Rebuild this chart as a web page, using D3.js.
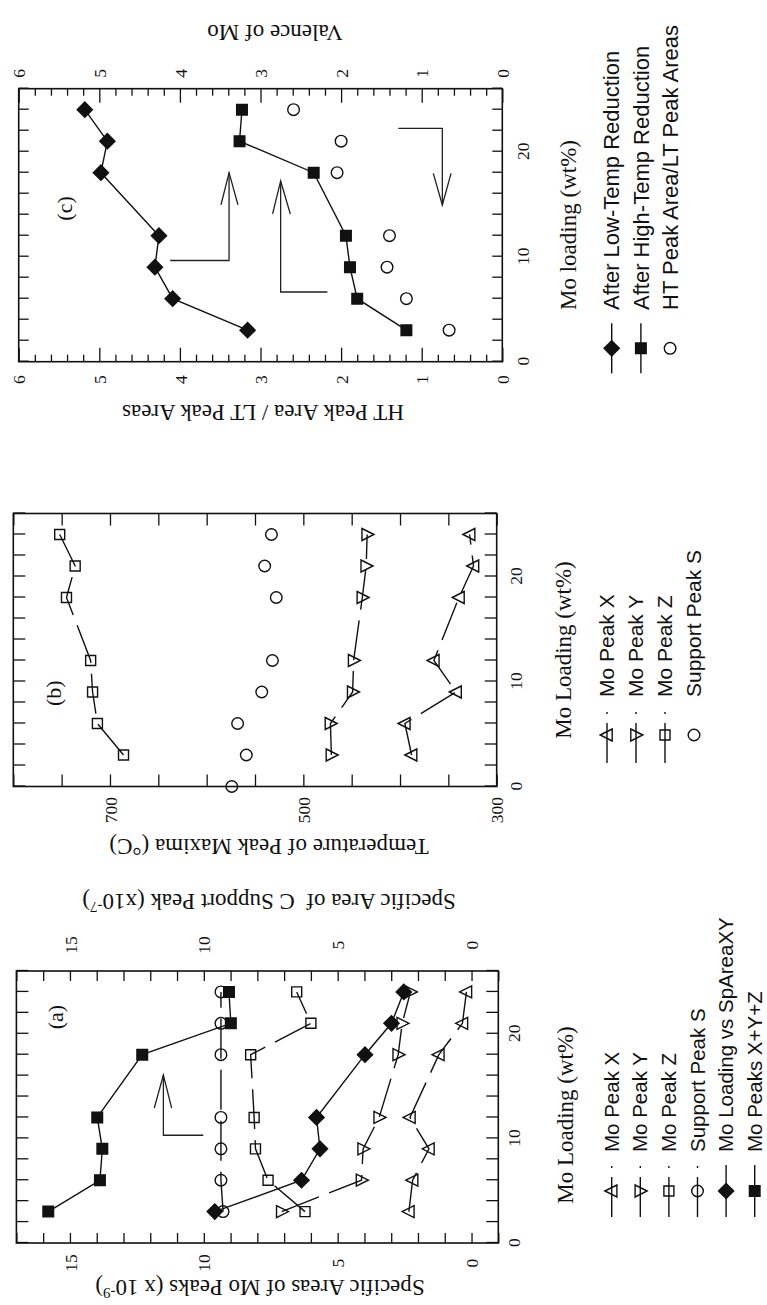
<!DOCTYPE html>
<html><head><meta charset="utf-8">
<script src="https://cdn.jsdelivr.net/npm/d3@7"></script>
<style>body{margin:0;background:#fff}svg{display:block}</style>
</head><body>
<svg id="fig" width="767" height="1305"></svg>
<script>
// ---------- DATA ----------
const moLoading = [3, 6, 9, 12, 18, 21, 24];
const xTickValues = [0,2,4,6,8,10,12,14,16,18,20,22,24,26];
const xTickLabels = [0, 10, 20];

// Panel (a): specific areas (x10^-9) ; support peak on right axis (x10^-7)
const aPeakX     = [2.34, 2.20, 1.59, 2.30, 1.22, 0.34, 0.19];
const aPeakY     = [7.09, 4.11, 4.05, 3.45, 2.74, 2.59, 2.28];
const aPeakZ     = [6.22, 7.60, 8.07, 8.12, 8.25, 6.00, 6.53];
const aSupportS  = [9.28, 9.36, 9.36, 9.36, 9.36, 9.36, 9.36];
const aSpAreaXY  = [9.59, 6.35, 5.66, 5.79, 3.98, 2.99, 2.53];
const aSumXYZ    = [15.81, 13.88, 13.79, 13.98, 12.30, 8.99, 9.06];
const aYTickLabels = [0, 5, 10, 15];

// Panel (b): temperature of peak maxima (°C)
const bPeakX = [388, 395, 342, 365, 339, 324, 328];
const bPeakY = [471, 472, 449, 448, 439, 435, 434];
const bPeakZ = [686, 713, 718, 720, 745, 736, 752];
const bSupportLoading = [0, 3, 6, 9, 12, 18, 21, 24];
const bSupportS = [574, 559, 568, 543, 532, 528, 540, 533];
const bYTickLabels = [300, 500, 700];

// Panel (c): HT/LT peak area ratio, valence of Mo
const cLowTemp  = [3.16, 4.09, 4.31, 4.26, 4.98, 4.90, 5.18];
const cHighTemp = [1.19, 1.80, 1.89, 1.94, 2.34, 3.26, 3.23];
const cRatio    = [0.66, 1.19, 1.43, 1.40, 2.05, 2.00, 2.59];
const cYTickLabels = [0, 1, 2, 3, 4, 5, 6];

// ---------- SETUP ----------
const SERIF = "'Liberation Serif','Times New Roman',serif";
const SANS = "'Liberation Sans',Arial,sans-serif";
const DASH_PLOT = "40,11";
const DASH_LEGEND = "40,9,2,9";
const INK = '#111';
const svg = d3.select('#fig');
svg.append('rect').attr('width',767).attr('height',1305).attr('fill','#fff');
// whole figure is drawn in landscape and rotated onto the portrait page
const root = svg.append('g').attr('transform','translate(0,1305) rotate(-90)');

function markerPath(type) {
  switch (type) {
    case 'triUp':   return 'M0,-6.8L6,5.2L-6,5.2Z';
    case 'triDown': return 'M0,6.8L6,-5.2L-6,-5.2Z';
    case 'square':  return 'M-5,-5H5V5H-5Z';
    case 'fsquare': return 'M-5.3,-5.3H5.3V5.3H-5.3Z';
    case 'diamond': return 'M0,-7.6L7.6,0L0,7.6L-7.6,0Z';
    case 'circle':  return 'M5.8,0A5.8,5.8 0 1,1 -5.8,0A5.8,5.8 0 1,1 5.8,0Z';
  }
}
function isFilled(t){ return t === 'fsquare' || t === 'diamond'; }

function makePanel(cfg) {
  const g = root.append('g');
  const x = d3.scaleLinear().domain([0, 26]).range([cfg.left, cfg.left + cfg.w]);
  const y = d3.scaleLinear().domain(cfg.yDomain).range([cfg.bottom, cfg.top]);
  const right = cfg.left + cfg.w;

  const style = a => {
    a.select('.domain').remove();
    a.attr('font-family', SERIF).attr('font-size', 17.5).attr('color', INK);
    a.selectAll('line').attr('stroke-width', 1.3);
  };
  // x axis (bottom, labelled) and mirror (top)
  const xb = g.append('g').attr('transform', `translate(0,${cfg.bottom})`)
    .call(d3.axisBottom(x).tickValues(xTickValues).tickSize(-cfg.xTick)
      .tickFormat(d => xTickLabels.includes(d) ? d : ''));
  style(xb);
  xb.selectAll('text').attr('y', cfg.xLabOff).attr('dy', '0.35em');
  const xt = g.append('g').attr('transform', `translate(0,${cfg.top})`)
    .call(d3.axisTop(x).tickValues(xTickValues).tickSize(-cfg.xTick).tickFormat(''));
  style(xt);

  // y axes
  const yAxes = (vals, len, labels) => {
    const l = g.append('g').attr('transform', `translate(${cfg.left},0)`)
      .call(d3.axisLeft(y).tickValues(vals).tickSize(-len)
        .tickFormat(d => labels && labels.includes(d) ? d : ''));
    style(l);
    l.selectAll('text').attr('x', -cfg.yLabOff).attr('text-anchor', 'middle').attr('dy', '0.35em');
    const r = g.append('g').attr('transform', `translate(${right},0)`)
      .call(d3.axisRight(y).tickValues(vals).tickSize(-len)
        .tickFormat(d => cfg.rightLabels && labels && labels.includes(d) ? d : ''));
    style(r);
    r.selectAll('text').attr('x', cfg.yRLabOff).attr('text-anchor', 'middle').attr('dy', '0.35em');
  };
  yAxes(cfg.yMinor, cfg.yMinorLen, null);
  yAxes(cfg.yMajor, cfg.yTick, cfg.yLabels);

  g.append('rect').attr('x', cfg.left).attr('y', cfg.top)
    .attr('width', cfg.w).attr('height', cfg.bottom - cfg.top)
    .attr('fill', 'none').attr('stroke', INK).attr('stroke-width', 1.6);

  // series
  const line = d3.line().x(d => x(d[0])).y(d => y(d[1]));
  cfg.series.forEach(s => {
    const pts = s.xs.map((v, i) => [v, s.ys[i]]);
    if (s.line) {
      g.append('path').attr('d', line(pts)).attr('fill', 'none')
        .attr('stroke', INK).attr('stroke-width', 1.4)
        .attr('stroke-dasharray', s.line === 'dash' ? DASH_PLOT : null);
    }
    g.selectAll(null).data(pts).enter().append('path')
      .attr('transform', d => `translate(${x(d[0])},${y(d[1])})`)
      .attr('d', markerPath(s.marker))
      .attr('fill', isFilled(s.marker) ? INK : 'none')
      .attr('stroke', INK).attr('stroke-width', 1.4);
  });

  // arrows (data coordinates)
  (cfg.arrows || []).forEach(a => {
    g.append('path').attr('d', line(a.shaft)).attr('fill', 'none')
      .attr('stroke', '#222').attr('stroke-width', 1.3);
    g.append('path').attr('d', line(a.head)).attr('fill', 'none')
      .attr('stroke', '#222').attr('stroke-width', 1.3);
  });

  // panel tag
  g.append('text').attr('x', x(cfg.tag[0])).attr('y', y(cfg.tag[1]))
    .attr('text-anchor', 'middle').attr('dy', '0.35em').attr('fill', INK)
    .attr('font-family', SERIF).attr('font-size', 22).text(cfg.tag[2]);

  // x title
  g.append('text').attr('x', cfg.xTitle[1]).attr('y', cfg.xTitle[2])
    .attr('text-anchor', 'middle').attr('dy', '0.35em').attr('fill', INK)
    .attr('font-family', SERIF).attr('font-size', 23).text(cfg.xTitle[0]);

  // y titles
  cfg.yTitles.forEach(t => {
    const tx = g.append('text')
      .attr('transform', `translate(${t.x},${t.y}) rotate(-90)`)
      .attr('text-anchor', 'middle').attr('dy', '0.35em').attr('fill', INK)
      .attr('font-family', SERIF).attr('font-size', 23)
      .style('white-space', 'pre');
    tx.append('tspan').text(t.text);
    if (t.sup) {
      tx.append('tspan').attr('font-size', 15).attr('dy', '-0.55em').text(t.sup);
      tx.append('tspan').attr('dy', '0.36em').text(')');
    }
  });

  // legend
  const L = cfg.legend;
  L.items.forEach((it, i) => {
    const ry = L.y0 + i * L.dy;
    if (it.line) {
      g.append('line').attr('x1', L.lineX0).attr('x2', L.lineX1)
        .attr('y1', ry).attr('y2', ry).attr('stroke', INK).attr('stroke-width', 1.4)
        .attr('stroke-dasharray', it.line === 'dash' ? DASH_LEGEND : null);
    }
    g.append('path').attr('transform', `translate(${L.markX},${ry})`)
      .attr('d', markerPath(it.marker))
      .attr('fill', isFilled(it.marker) ? INK : 'none')
      .attr('stroke', INK).attr('stroke-width', 1.4);
    g.append('text').attr('x', L.textX).attr('y', ry).attr('dy', '0.35em').attr('fill', INK)
      .attr('font-family', SANS).attr('font-size', L.font).text(it.label);
  });
}

// ---------- PANEL (a) ----------
makePanel({
  left: 62, w: 272, top: 16.4, bottom: 498.3, yDomain: [-1, 17],
  xTick: 12, yTick: 10, yMinorLen: 10,
  yMajor: d3.range(-1, 18, 1), yMinor: [], yLabels: aYTickLabels, rightLabels: true,
  xLabOff: 15.7, yLabOff: 20, yRLabOff: 26,
  series: [
    { xs: moLoading, ys: aPeakX, marker: 'triUp', line: 'dash' },
    { xs: moLoading, ys: aPeakY, marker: 'triDown', line: 'dash' },
    { xs: moLoading, ys: aPeakZ, marker: 'square', line: 'dash' },
    { xs: moLoading, ys: aSupportS, marker: 'circle', line: 'dash' },
    { xs: moLoading, ys: aSpAreaXY, marker: 'diamond', line: 'solid' },
    { xs: moLoading, ys: aSumXYZ, marker: 'fsquare', line: 'solid' }
  ],
  arrows: [
    { shaft: [[10.3, 10.02], [10.3, 11.51], [16.06, 11.51]],
      head: [[12.9, 11.85], [16.06, 11.51], [12.9, 11.20]] }
  ],
  tag: [21.6, 15.56, '(a)'],
  xTitle: ['Mo Loading (wt%)', 190, 565],
  yTitles: [
    { text: 'Specific Areas of Mo Peaks (x 10', sup: '-9', x: 17, y: 260 },
    { text: 'Specific Area of  C Support Peak (x10', sup: '-7', x: 403, y: 269 }
  ],
  legend: {
    y0: 611.7, dy: 28.6, lineX0: 88, lineX1: 140, markX: 114, textX: 153, font: 20.5,
    items: [
      { marker: 'triUp', line: 'dash', label: 'Mo Peak X' },
      { marker: 'triDown', line: 'dash', label: 'Mo Peak Y' },
      { marker: 'square', line: 'dash', label: 'Mo Peak Z' },
      { marker: 'circle', line: 'dash', label: 'Support Peak S' },
      { marker: 'diamond', line: 'solid', label: 'Mo Loading vs SpAreaXY' },
      { marker: 'fsquare', line: 'solid', label: 'Mo Peaks X+Y+Z' }
    ]
  }
});

// ---------- PANEL (b) ----------
makePanel({
  left: 518.5, w: 273, top: 13.3, bottom: 496.7, yDomain: [300, 800],
  xTick: 12, yTick: 12, yMinorLen: 12,
  yMajor: d3.range(300, 801, 50), yMinor: [], yLabels: bYTickLabels, rightLabels: false,
  xLabOff: 19.3, yLabOff: 23.5, yRLabOff: 20,
  series: [
    { xs: moLoading, ys: bPeakX, marker: 'triUp', line: 'dash' },
    { xs: moLoading, ys: bPeakY, marker: 'triDown', line: 'dash' },
    { xs: moLoading, ys: bPeakZ, marker: 'square', line: 'dash' },
    { xs: bSupportLoading, ys: bSupportS, marker: 'circle', line: null }
  ],
  arrows: [],
  tag: [8.88, 758.6, '(b)'],
  xTitle: ['Mo Loading (wt%)', 655, 563],
  yTitles: [
    { text: 'Temperature of Peak Maxima (°C)', x: 458, y: 269 }
  ],
  legend: {
    y0: 607, dy: 29, lineX0: 542, lineX1: 594, markX: 570, textX: 608, font: 21,
    items: [
      { marker: 'triUp', line: 'dash', label: 'Mo Peak X' },
      { marker: 'triDown', line: 'dash', label: 'Mo Peak Y' },
      { marker: 'square', line: 'dash', label: 'Mo Peak Z' },
      { marker: 'circle', line: null, label: 'Support Peak S' }
    ]
  }
});

// ---------- PANEL (c) ----------
makePanel({
  left: 943.3, w: 273, top: 18.7, bottom: 502.3, yDomain: [0, 6],
  xTick: 10, yTick: 14, yMinorLen: 7,
  yMajor: d3.range(0, 7, 1), yMinor: d3.range(0, 31).map(i => i / 5).filter(v => Math.abs(v - Math.round(v)) > 1e-6),
  yLabels: cYTickLabels, rightLabels: true,
  xLabOff: 21, yLabOff: 18, yRLabOff: 15.4,
  series: [
    { xs: moLoading, ys: cLowTemp, marker: 'diamond', line: 'solid' },
    { xs: moLoading, ys: cHighTemp, marker: 'fsquare', line: 'solid' },
    { xs: moLoading, ys: cRatio, marker: 'circle', line: null }
  ],
  arrows: [
    { shaft: [[9.64, 4.12], [9.64, 3.39], [18.0, 3.39]],
      head: [[14.95, 3.49], [18.0, 3.39], [14.95, 3.28]] },
    { shaft: [[6.64, 2.17], [6.64, 2.75], [17.2, 2.75]],
      head: [[14.07, 2.85], [17.2, 2.75], [14.07, 2.63]] },
    { shaft: [[22.23, 1.29], [22.23, 0.744], [14.92, 0.744]],
      head: [[17.94, 0.856], [14.92, 0.744], [17.94, 0.636]] }
  ],
  tag: [14.6, 5.43, '(c)'],
  xTitle: ['Mo loading (wt%)', 1080, 568],
  yTitles: [
    { text: 'HT Peak Area / LT Peak Areas', x: 892, y: 263 },
    { text: 'Valence of Mo', x: 1272, y: 275 }
  ],
  legend: {
    y0: 611.7, dy: 29.2, lineX0: 931.7, lineX1: 981.7, markX: 956.7, textX: 995, font: 22,
    items: [
      { marker: 'diamond', line: 'solid', label: 'After Low-Temp Reduction' },
      { marker: 'fsquare', line: 'solid', label: 'After High-Temp Reduction' },
      { marker: 'circle', line: null, label: 'HT Peak Area/LT Peak Areas' }
    ]
  }
});
</script>
</body></html>
